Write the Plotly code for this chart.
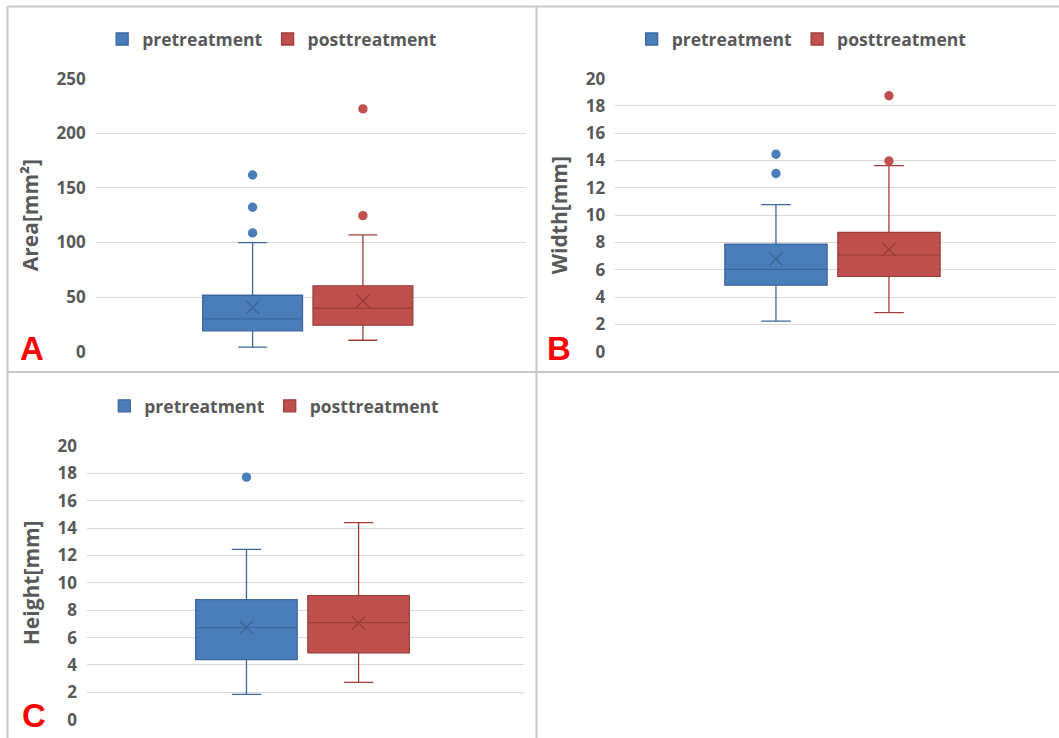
import plotly.graph_objects as go

# ---------------- data ----------------
series = ["pretreatment", "posttreatment"]
category = ["all"]

area_q1 = [19.0, 24.2]
area_median = [30.0, 39.7]
area_q3 = [51.6, 60.2]
area_lower = [4.0, 10.4]
area_upper = [99.8, 106.9]
area_mean = [40.3, 46.4]
area_outliers_pre = [108.7, 132.2, 161.8]
area_outliers_post = [124.5, 222.3]

width_q1 = [4.87, 5.51]
width_median = [6.02, 7.07]
width_q3 = [7.88, 8.74]
width_lower = [2.23, 2.86]
width_upper = [10.77, 13.63]
width_mean = [6.78, 7.49]
width_outliers_pre = [13.05, 14.46]
width_outliers_post = [13.97, 18.75]

height_q1 = [4.39, 4.88]
height_median = [6.73, 7.09]
height_q3 = [8.77, 9.06]
height_lower = [1.85, 2.73]
height_upper = [12.45, 14.40]
height_mean = [6.73, 7.07]
height_outliers_pre = [17.72]
height_outliers_post = []

y_titles = ["Area[mm²]", "Width[mm]", "Height[mm]"]
y_ranges = [[0, 250], [0, 20], [0, 20]]
y_dticks = [50, 2, 2]
panel_letters = ["A", "B", "C"]

# ---------------- style ----------------
FILL = ["#4a7ebb", "#c0504d"]
LINE = ["#3b679e", "#9e3e3b"]
DARK = ["#3a6596", "#963b38"]
GRAY = "#595959"
FONT = "Open Sans"

panels = [
    dict(q1=area_q1, med=area_median, q3=area_q3, lo=area_lower, hi=area_upper,
         mean=area_mean, out=[area_outliers_pre, area_outliers_post]),
    dict(q1=width_q1, med=width_median, q3=width_q3, lo=width_lower, hi=width_upper,
         mean=width_mean, out=[width_outliers_pre, width_outliers_post]),
    dict(q1=height_q1, med=height_median, q3=height_q3, lo=height_lower, hi=height_upper,
         mean=height_mean, out=[height_outliers_pre, height_outliers_post]),
]

x_domains = [[0.0904, 0.4965], [0.581, 0.997], [0.0822, 0.4949]]
y_domains = [[0.5236, 0.8934], [0.5236, 0.8934], [0.0248, 0.3957]]
legend_pos = [(0.257, 0.947), (0.757, 0.947), (0.259, 0.45)]
letter_pos = [(18, 348), (545, 348), (20, 715)]

fig = go.Figure()

for p, panel in enumerate(panels):
    ax = "" if p == 0 else str(p + 1)
    leg = "legend" if p == 0 else f"legend{p + 1}"
    for s, name in enumerate(series):
        fig.add_trace(go.Box(
            name=name, x=category,
            q1=[panel["q1"][s]], median=[panel["med"][s]], q3=[panel["q3"][s]],
            lowerfence=[panel["lo"][s]], upperfence=[panel["hi"][s]],
            boxpoints=False, fillcolor=FILL[s],
            line=dict(color=LINE[s], width=1.3),
            whiskerwidth=0.29, opacity=1,
            offsetgroup=name, alignmentgroup=f"panel{p}",
            xaxis="x" + ax, yaxis="y" + ax, legend=leg,
            hoverinfo="skip",
        ))
    for s, name in enumerate(series):
        ys = [panel["mean"][s]] + list(panel["out"][s])
        symbols = ["x-thin-open"] + ["circle"] * len(panel["out"][s])
        sizes = [13] + [8] * len(panel["out"][s])
        colors = [DARK[s]] + [FILL[s]] * len(panel["out"][s])
        fig.add_trace(go.Scatter(
            x=category * len(ys), y=ys, mode="markers", showlegend=False,
            marker=dict(symbol=symbols, size=sizes, color=colors, opacity=1,
                        line=dict(color=colors, width=1.4)),
            offsetgroup=name, alignmentgroup=f"panel{p}",
            xaxis="x" + ax, yaxis="y" + ax, hoverinfo="skip",
        ))

layout = dict(
    width=1059, height=738, autosize=False,
    margin=dict(l=0, r=0, t=0, b=0, pad=0),
    paper_bgcolor="white", plot_bgcolor="white",
    boxmode="group", boxgap=0.487, boxgroupgap=0.095,
    scattermode="group", scattergap=0.487,
    font=dict(family=FONT, color=GRAY),
)

for p in range(3):
    ax = "" if p == 0 else str(p + 1)
    layout["xaxis" + ax] = dict(
        domain=x_domains[p], anchor="y" + ax, showticklabels=False,
        showgrid=False, zeroline=False, showline=False, ticks="",
        range=[-0.493, 0.507], fixedrange=True, automargin=False,
    )
    layout["yaxis" + ax] = dict(
        domain=y_domains[p], anchor="x" + ax, range=y_ranges[p], dtick=y_dticks[p],
        showgrid=True, gridcolor="#d9d9d9", gridwidth=1.3, zeroline=False,
        showline=False, ticks="", ticklabelstandoff=9, automargin=False,
        tickfont=dict(family=FONT, size=17, color=GRAY, weight="bold"),
        title=dict(text=y_titles[p], standoff=12,
                   font=dict(family=FONT, size=21, color=GRAY, weight="bold")),
    )
    leg = "legend" if p == 0 else f"legend{p + 1}"
    lx, ly = legend_pos[p]
    layout[leg] = dict(
        orientation="h", x=lx, y=ly, xanchor="center", yanchor="middle",
        font=dict(family=FONT, size=17.5, color=GRAY, weight="bold"),
        bgcolor="rgba(0,0,0,0)", itemwidth=30, tracegroupgap=0,
    )

fig.update_layout(**layout)

for p, (lx, ly) in enumerate(letter_pos):
    fig.add_annotation(
        text=panel_letters[p], x=lx / 1059, y=1 - ly / 738, xref="paper", yref="paper",
        xanchor="left", yanchor="middle", showarrow=False,
        font=dict(family="Liberation Sans", size=33, color="#ff0000", weight="bold"),
    )

border = dict(color="#c8c8c8", width=2)
lines = [
    (7.5, 6.5, 1059, 6.5),
    (7.5, 6.5, 7.5, 738),
    (536.5, 6.5, 536.5, 738),
    (7.5, 372, 1059, 372),
]
for x0, y0, x1, y1 in lines:
    fig.add_shape(type="line", xref="paper", yref="paper",
                  x0=x0 / 1059, x1=x1 / 1059, y0=1 - y0 / 738, y1=1 - y1 / 738,
                  line=border, layer="below")

fig.write_html(
    "out.html",
    config={"displayModeBar": False},
    post_script="document.body.style.margin='0';document.body.style.overflow='hidden';",
)
